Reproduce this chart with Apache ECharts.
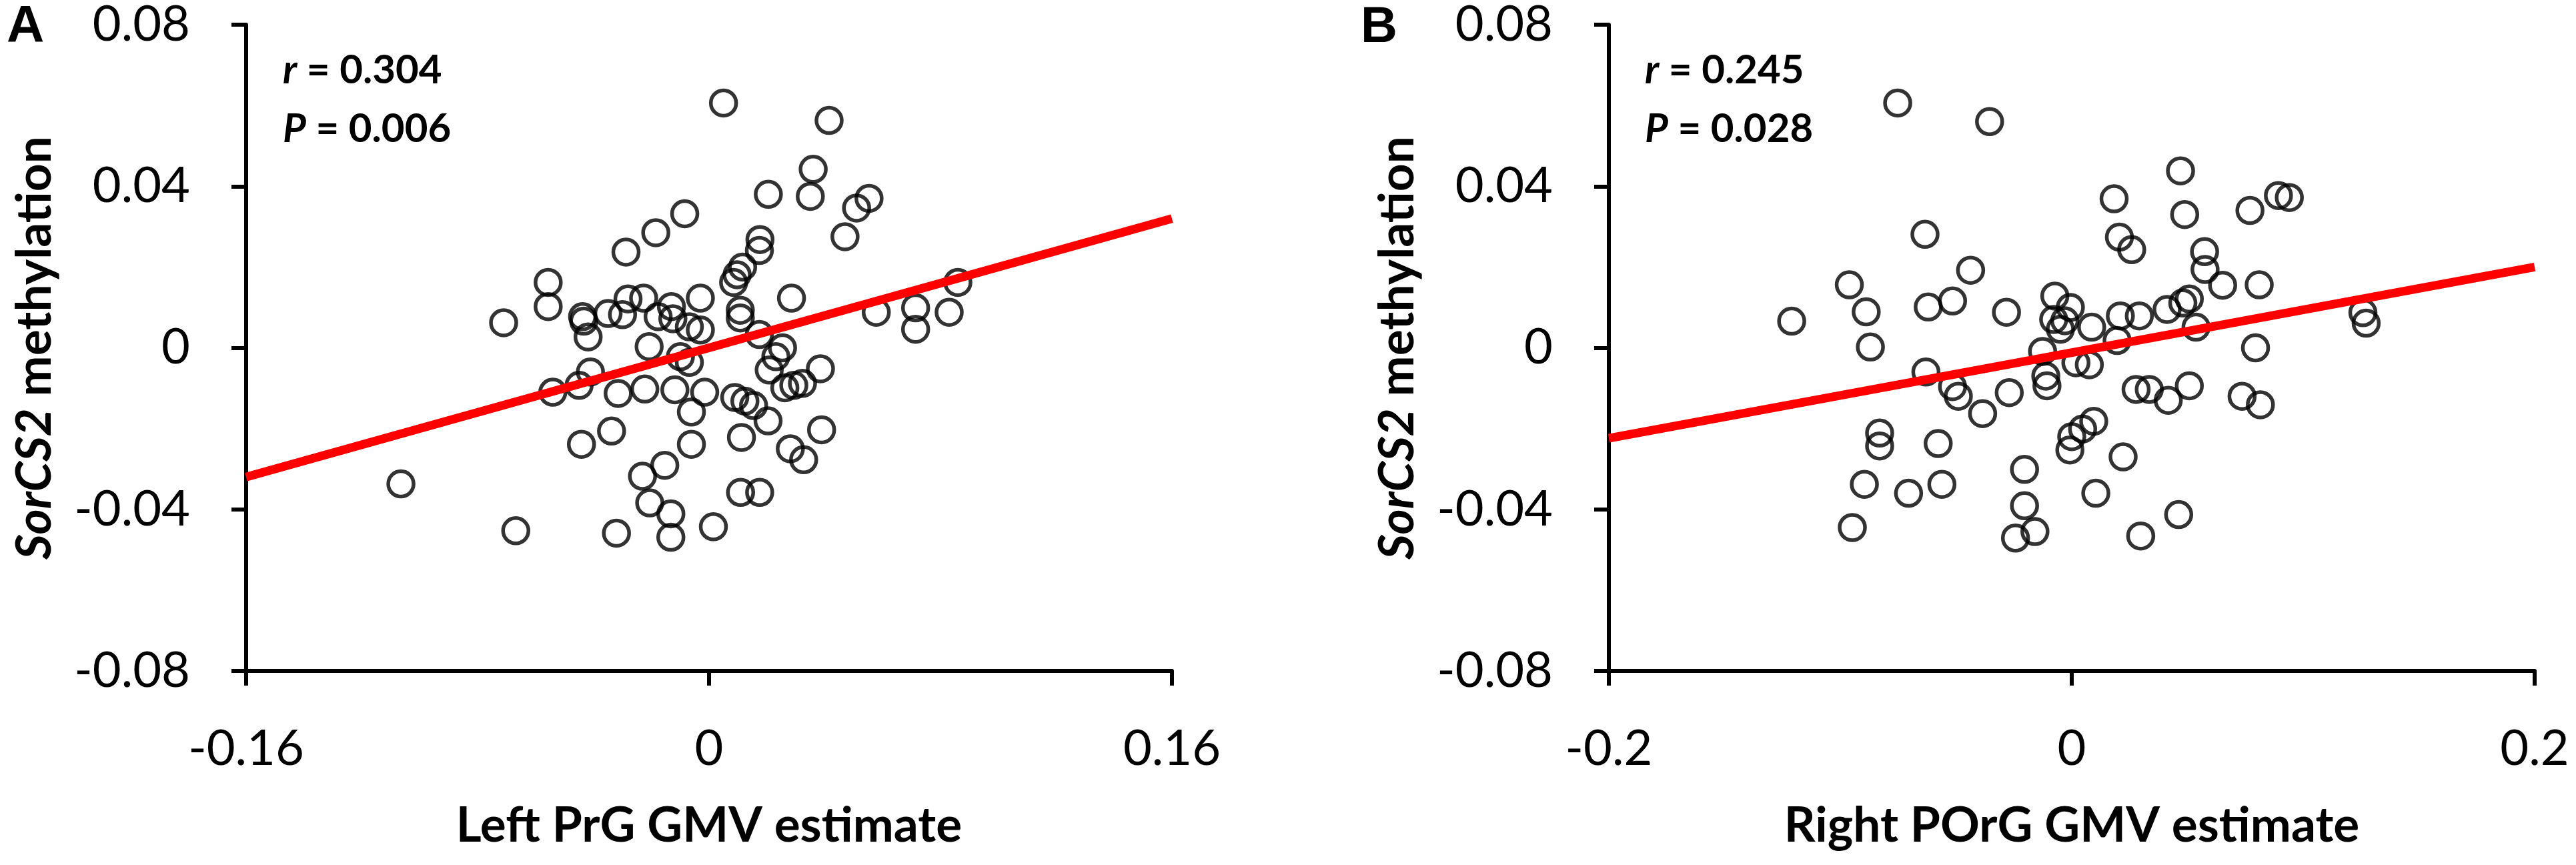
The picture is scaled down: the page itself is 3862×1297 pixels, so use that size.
<!DOCTYPE html>
<html>
<head>
<meta charset="utf-8">
<title>SorCS2 methylation vs GMV</title>
<script src="https://cdn.jsdelivr.net/npm/echarts@6/dist/echarts.min.js"></script>
<style>
  html, body { margin: 0; padding: 0; background: #fff; }
  #chart { width: 3862px; height: 1297px; }
</style>
</head>
<body>
<div id="chart"></div>
<script>
// panel A: Left PrG GMV estimate vs SorCS2 methylation
const aX = [0.005, 0.0415, 0.036, 0.035, 0.0205, 0.0553, 0.051, 0.047, -0.0084, -0.0184,
  -0.0287, 0.0176, 0.0174, 0.0116, 0.0097, 0.0085, -0.0556, -0.0556, -0.071, -0.0437,
  -0.0433, -0.0418, -0.0349, -0.0299, -0.028, -0.0226, -0.0176, -0.013, -0.0125, -0.003,
  -0.003, -0.0068, -0.0207, -0.0099, -0.0068, 0.0108, 0.0108, 0.0174, 0.0285, 0.0254,
  0.0231, 0.0208, 0.0385, 0.0323, 0.0293, 0.0262, 0.0578, 0.0714, 0.0714, 0.083,
  0.086, -0.054, -0.0449, -0.041, -0.0314, -0.0222, -0.0118, -0.0015, -0.0061, 0.0089,
  0.0124, 0.0154, 0.0204, 0.0112, 0.0389, 0.0281, 0.0327, -0.0061, -0.0337, -0.0441,
  -0.0153, -0.023, -0.0205, -0.0132, -0.0132, -0.032, 0.0015, 0.0109, 0.0175, -0.0668,
  -0.1065]
const aY = [0.0606, 0.0563, 0.0442, 0.0375, 0.038, 0.037, 0.0346, 0.0275, 0.0332, 0.0285,
  0.0237, 0.0268, 0.0241, 0.020, 0.0181, 0.0162, 0.0162, 0.0102, 0.0062, 0.0077,
  0.0066, 0.0027, 0.0085, 0.0082, 0.0121, 0.0123, 0.0077, 0.0102, 0.0072, 0.0123,
  0.0044, 0.0052, 0.0003, -0.0022, -0.0036, 0.0093, 0.0074, 0.0033, 0.0123, 0.0,
  -0.0022, -0.0055, -0.0052, -0.0088, -0.0093, -0.0099, 0.0088, 0.0099, 0.0046, 0.0088,
  0.0162, -0.011, -0.0093, -0.006, -0.0113, -0.0102, -0.0104, -0.011, -0.0159, -0.0123,
  -0.0132, -0.0143, -0.0181, -0.0222, -0.0203, -0.025, -0.0277, -0.0239, -0.0206, -0.0239,
  -0.0291, -0.0318, -0.0384, -0.0411, -0.0469, -0.0459, -0.0443, -0.0358, -0.0358, -0.0453,
  -0.0337]
const aFitX = [-0.16, 0.16]
const aFitY = [-0.032, 0.032]

// panel B: Right POrG GMV estimate vs SorCS2 methylation
const bX = [-0.0752, -0.0355, 0.047, 0.0183, 0.0488, 0.077, 0.0893, 0.094, -0.0634, 0.0206,
  0.0259, 0.0574, 0.0576, 0.0652, 0.081, -0.0437, -0.0961, -0.0888, -0.121, -0.062,
  -0.0515, -0.0282, -0.0073, -0.0078, -0.003, -0.0006, -0.0049, 0.0086, 0.021, 0.0292,
  0.0196, 0.0412, 0.048, 0.0508, 0.0537, 0.1258, 0.1272, -0.087, 0.0794, -0.0126,
  -0.0112, -0.0107, 0.0018, 0.0076, -0.063, -0.0515, -0.049, -0.027, -0.0385, 0.0278,
  0.0335, 0.0417, 0.0508, 0.0736, 0.0815, -0.083, -0.083, -0.0577, 0.0095, 0.0047,
  0.0, -0.0008, 0.0222, -0.0204, -0.0896, -0.0705, -0.0561, 0.0104, -0.0204, -0.0948,
  -0.0243, -0.0159, 0.0298, 0.0462]
const bY = [0.0606, 0.056, 0.0438, 0.0369, 0.033, 0.034, 0.0377, 0.0372, 0.0281, 0.0274,
  0.0243, 0.0238, 0.0194, 0.0155, 0.0156, 0.0192, 0.0156, 0.0089, 0.0066, 0.0101,
  0.0116, 0.0088, 0.0128, 0.007, 0.0067, 0.010, 0.0046, 0.0051, 0.0079, 0.0079,
  0.0018, 0.0095, 0.0111, 0.0121, 0.0051, 0.0087, 0.0061, 0.0002, 0.0, -0.0009,
  -0.007, -0.0094, -0.0037, -0.0042, -0.006, -0.0096, -0.012, -0.0111, -0.0163, -0.0103,
  -0.0103, -0.013, -0.0094, -0.012, -0.0141, -0.0211, -0.0243, -0.0237, -0.0182, -0.0201,
  -0.022, -0.0253, -0.027, -0.0301, -0.0338, -0.036, -0.0338, -0.036, -0.0391, -0.0445,
  -0.0471, -0.0455, -0.0466, -0.0413]
const bFitX = [-0.2, 0.2]
const bFitY = [-0.0224, 0.020]

const panels = [
  { tag: 'A', xName: 'Left PrG GMV estimate', xMax: 0.16, r: '0.304', p: '0.006' },
  { tag: 'B', xName: 'Right POrG GMV estimate', xMax: 0.2, r: '0.245', p: '0.028' }
]

const FONT = 'Lato'
const pair = (xs, ys) => xs.map((x, i) => [x, ys[i]])
const tickFmt = v => (v === 0 ? '0' : String(+v.toFixed(2)))

const axisCommon = {
  axisLine: { onZero: false, lineStyle: { color: '#000', width: 6 } },
  axisTick: { inside: false, length: 22, lineStyle: { color: '#000', width: 6 } },
  splitLine: { show: false },
  axisLabel: { color: '#000', fontFamily: FONT, fontSize: 74, formatter: tickFmt }
}

const myChart = echarts.init(document.getElementById('chart'))

const option = {
  backgroundColor: '#fff',
  animation: false,
  grid: [
    { left: 369, top: 34, width: 1388, height: 972 },
    { left: 2412, top: 34, width: 1388, height: 972 }
  ],
  xAxis: panels.map((p, i) => ({
    ...axisCommon,
    gridIndex: i,
    type: 'value',
    min: -p.xMax,
    max: p.xMax,
    interval: p.xMax,
    name: p.xName,
    nameLocation: 'middle',
    nameGap: 196,
    nameTextStyle: { color: '#000', fontFamily: FONT, fontWeight: 'bold', fontSize: 73 },
    axisLabel: { ...axisCommon.axisLabel, margin: 80 }
  })),
  yAxis: panels.map((p, i) => ({
    ...axisCommon,
    gridIndex: i,
    type: 'value',
    min: -0.08,
    max: 0.08,
    interval: 0.04,
    name: '{i|SorCS2} methylation',
    nameLocation: 'middle',
    nameGap: 280,
    nameTextStyle: {
      color: '#000', fontFamily: FONT, fontWeight: 'bold', fontSize: 73,
      rich: { i: { fontFamily: FONT, fontWeight: 'bold', fontStyle: 'italic', fontSize: 73, color: '#000' } }
    },
    axisLabel: { ...axisCommon.axisLabel, margin: 84 }
  })),
  graphic: [
    { type: 'text', left: 10, top: 2, style: { text: 'A', fill: '#000', font: 'bold 78px "Liberation Sans"' } },
    { type: 'text', left: 2040, top: 4, style: { text: 'B', fill: '#000', font: 'bold 76px "Liberation Sans"' } }
  ].concat(panels.map((p, i) => ({
    type: 'text',
    left: i === 0 ? 424 : 2466,
    top: 62,
    style: {
      text: '{i|r} = ' + p.r + '\n{i|P} = ' + p.p,
      fill: '#000',
      fontFamily: FONT,
      fontWeight: 'bold',
      fontSize: 60,
      lineHeight: 88,
      rich: {
        i: { fontFamily: FONT, fontWeight: 'bold', fontStyle: 'italic', fontSize: 60, lineHeight: 88 }
      }
    }
  }))),
  series: [
    [aX, aY, aFitX, aFitY],
    [bX, bY, bFitX, bFitY]
  ].flatMap(([xs, ys, fx, fy], i) => [
    {
      type: 'scatter',
      xAxisIndex: i,
      yAxisIndex: i,
      data: pair(xs, ys),
      symbol: 'circle',
      symbolSize: 38,
      itemStyle: { color: 'rgba(0,0,0,0)', borderColor: '#000', borderWidth: 5.5 },
      emphasis: { disabled: true },
      z: 2
    },
    {
      type: 'line',
      xAxisIndex: i,
      yAxisIndex: i,
      data: pair(fx, fy),
      symbol: 'none',
      lineStyle: { color: '#ff0000', width: 13 },
      emphasis: { disabled: true },
      z: 3
    }
  ])
}

myChart.setOption(option)
window.onresize = () => {
  myChart.resize()
}
</script>
</body>
</html>
